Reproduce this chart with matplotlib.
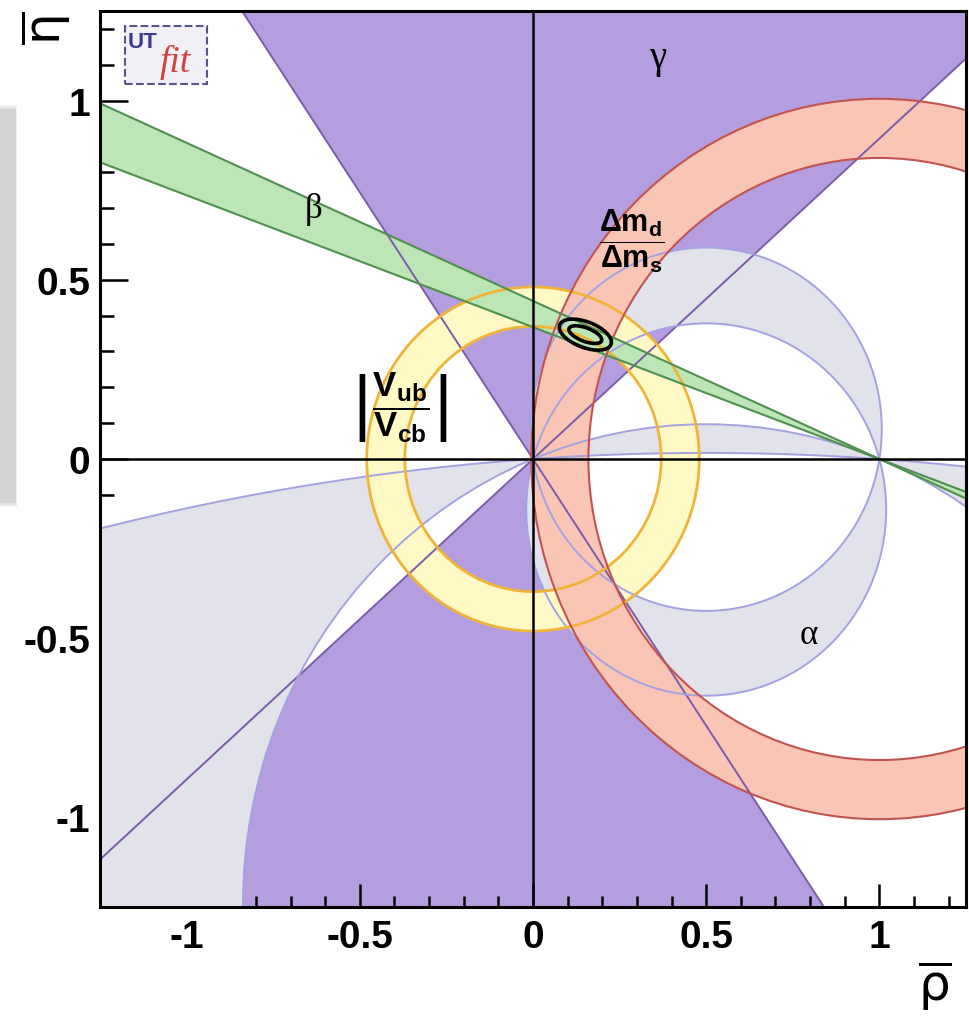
import numpy as np
import matplotlib.pyplot as plt
from matplotlib.patches import Wedge, Annulus, Circle, Ellipse, Polygon, Rectangle
from matplotlib.ticker import MultipleLocator

plt.rcParams['mathtext.fontset'] = 'custom'
plt.rcParams['mathtext.rm'] = 'DejaVu Sans'
plt.rcParams['mathtext.bf'] = 'Liberation Sans:bold'
plt.rcParams['mathtext.it'] = 'Liberation Sans:italic'

# --- rango de los ejes ---
rho_lim = [-1.25, 1.25]
eta_lim = [-1.25, 1.25]

# gamma: angulos (grados) de las dos rectas que pasan por el origen
gamma_angles = [41.8, 123.9]

# alpha: circulos que pasan por (0,0) y (1,0), altura del centro (rho = 0.5)
alpha_pairs = [(0.083, -0.141), (-1.24, -7.34)]

# |Vub/Vcb|: anillo centrado en (0,0)
vub_radii = [0.37, 0.48]

# dmd/dms: anillo centrado en (1,0)
dm_radii = [0.84, 1.005]

# beta: angulos (grados) de las rectas que pasan por (1,0)
beta_angles = [20.2, 23.8]

# contornos del ajuste
fit_centre = (0.151, 0.347)
fit_widths = [0.158, 0.10]
fit_heights = [0.072, 0.038]
fit_angle = -20

# colores
c_gamma, c_gamma_line = '#b49ee0', '#7b5ca8'
c_alpha, c_alpha_line = '#e1e2ea', '#a4a2e0'
c_vub, c_vub_line = '#fff9c6', '#f0b43a'
c_dm, c_dm_line = '#f9c6b6', '#c2544f'
c_beta, c_beta_line = '#bde6b6', '#4f8f4f'


def arc(c, side, n=3000):
    r = np.hypot(0.5, c)
    t0 = np.arctan2(-c, -0.5)  # punto (0,0)
    t1 = np.arctan2(-c, 0.5)   # punto (1,0)
    if side == 'upper':
        if t0 < t1:
            t0 += 2 * np.pi
        t = np.linspace(t1, t0, n)
    else:
        if t1 < t0:
            t1 += 2 * np.pi
        t = np.linspace(t0, t1, n)
    return np.column_stack([0.5 + r * np.cos(t), c + r * np.sin(t)])


fig = plt.figure(figsize=(9.69, 10.2), dpi=100)
ax = fig.add_axes([100 / 969, 112 / 1020, 866 / 969, 896 / 1020])
ax.set_xlim(rho_lim)
ax.set_ylim(eta_lim)

# sombra gris a la izquierda
for i, a in enumerate([0.25, 0.35, 0.6]):
    fig.patches.append(Rectangle((0 - 0.004 + i * 0.002, 1 - 508 / 1020 + i * 0.002), 0.022 - i * 0.003,
                                 (508 - 106) / 1020 - i * 0.004, transform=fig.transFigure,
                                 facecolor='#c8c8c8', edgecolor='none', alpha=a, zorder=0))

# G1: gamma
for base in [0, 180]:
    ax.add_patch(Wedge((0, 0), 6, base + gamma_angles[0], base + gamma_angles[1],
                       facecolor=c_gamma, edgecolor='none', zorder=1))

# G2: alpha
for c1, c2 in alpha_pairs:
    for side in ['upper', 'lower']:
        pts = np.vstack([arc(c1, side), arc(c2, side)[::-1]])
        ax.add_patch(Polygon(pts, closed=True, facecolor=c_alpha, edgecolor='none', zorder=2))

# G3: |Vub/Vcb|
ax.add_patch(Annulus((0, 0), vub_radii[1], vub_radii[1] - vub_radii[0],
                     facecolor=c_vub, edgecolor='none', zorder=3))

# G4: dmd/dms
ax.add_patch(Annulus((1, 0), dm_radii[1], dm_radii[1] - dm_radii[0],
                     facecolor=c_dm, edgecolor='none', zorder=4))

# G5: beta
for base in [180, 0]:
    ax.add_patch(Wedge((1, 0), 6, base - beta_angles[1], base - beta_angles[0],
                       facecolor=c_beta, edgecolor='none', zorder=5))

# --- contornos ---
for ang in gamma_angles:
    ax.axline((0, 0), slope=np.tan(np.radians(ang)), color=c_gamma_line, lw=1.4, zorder=6)
for pair in alpha_pairs:
    for c in pair:
        ax.add_patch(Circle((0.5, c), np.hypot(0.5, c), fill=False, edgecolor=c_alpha_line,
                            lw=1.4, zorder=6))
for r in vub_radii:
    ax.add_patch(Circle((0, 0), r, fill=False, edgecolor=c_vub_line, lw=2.0, zorder=7))
for r in dm_radii:
    ax.add_patch(Circle((1, 0), r, fill=False, edgecolor=c_dm_line, lw=1.5, zorder=7))
for ang in beta_angles:
    ax.axline((1, 0), slope=-np.tan(np.radians(ang)), color=c_beta_line, lw=1.5, zorder=8)

ax.axhline(0, color='black', lw=1.8, zorder=9)
ax.axvline(0, color='black', lw=1.8, zorder=9)

for w, h in zip(fit_widths, fit_heights):
    ax.add_patch(Ellipse(fit_centre, w, h, angle=fit_angle, fill=False, edgecolor='black',
                         lw=2.6, zorder=10))

# --- etiquetas ---
serif = 'Liberation Serif'
ax.text(0.36, 1.12, 'γ', family=serif, fontsize=28, ha='center', va='center', zorder=11)
ax.text(-0.634, 0.70, 'β', family=serif, fontsize=25, ha='center', va='center', zorder=11)
ax.text(0.795, -0.49, 'α', family=serif, fontsize=25, ha='center', va='center', zorder=11)
ax.text(0.284, 0.611, r'$\dfrac{\mathbf{\Delta m_d}}{\mathbf{\Delta m_s}}$', fontsize=22,
        ha='center', va='center', zorder=11)
ax.text(-0.388, 0.145, r'$\left|\dfrac{\mathbf{V_{ub}}}{\mathbf{V_{cb}}}\right|$', fontsize=25,
        ha='center', va='center', zorder=11)

# logo UTfit
ax.add_patch(Rectangle((0.029, 0.9185), 0.0947, 0.0645, transform=ax.transAxes,
                       facecolor='#f2eff6', edgecolor='#55558a', lw=1.5, ls='--', zorder=12))
ax.text(0.032, 0.966, 'UT', transform=ax.transAxes, family='Liberation Sans', fontweight='bold',
        fontsize=16, color='#3c3c8c', ha='left', va='center', zorder=13)
ax.text(0.069, 0.944, 'fit', transform=ax.transAxes, family=serif, style='italic',
        fontsize=27, color='#d2423f', ha='left', va='center', zorder=13)

# nombres de los ejes
fig.text(0.965, 0.034, r'$\overline{\mathrm{\rho}}$', fontsize=36, ha='center', va='center')
fig.text(0.046, 0.972, r'$\overline{\mathrm{\eta}}$', fontsize=36, ha='center', va='center',
         rotation=90)

# --- ejes estilo ROOT ---
ax.xaxis.set_minor_locator(MultipleLocator(0.1))
ax.yaxis.set_minor_locator(MultipleLocator(0.1))
ax.set_xticks([-1, -0.5, 0, 0.5, 1])
ax.set_yticks([-1, -0.5, 0, 0.5, 1])
ax.set_xticklabels(['-1', '-0.5', '0', '0.5', '1'])
ax.set_yticklabels(['-1', '-0.5', '0', '0.5', '1'])
ax.tick_params(direction='in', top=False, right=False, which='both', width=1.8, colors='black')
ax.tick_params(axis='x', which='major', length=16.5, pad=9)
ax.tick_params(axis='x', which='minor', length=8)
ax.tick_params(axis='y', which='major', length=20, pad=7)
ax.tick_params(axis='y', which='minor', length=10)
for lab in ax.get_xticklabels() + ax.get_yticklabels():
    lab.set_family('Liberation Sans')
    lab.set_fontweight('bold')
    lab.set_fontsize(28)
for s in ax.spines.values():
    s.set_linewidth(2.2)
    s.set_zorder(20)

fig.savefig('out.png', dpi=100)
